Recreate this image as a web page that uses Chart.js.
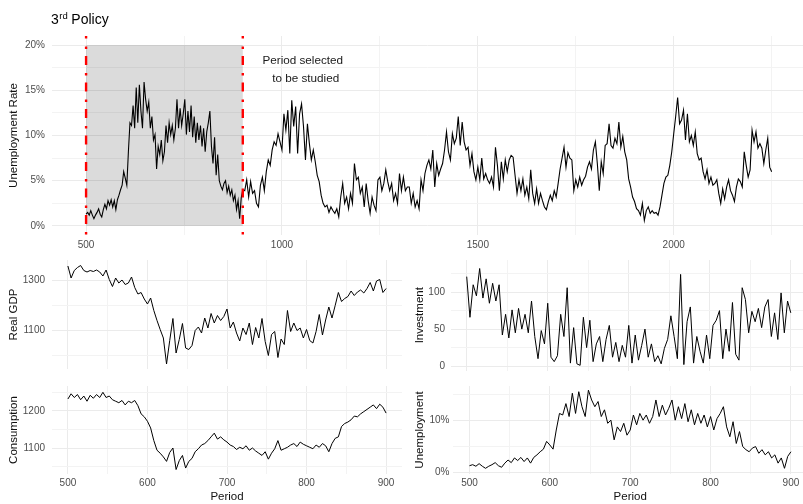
<!DOCTYPE html>
<html>
<head>
<meta charset="utf-8">
<script src="https://cdn.jsdelivr.net/npm/chart.js@4.4.1/dist/chart.umd.min.js"></script>
<style>
  html, body { margin: 0; padding: 0; background: #fff; overflow: hidden; width: 803px; height: 504px; }
  canvas { position: absolute; }
</style>
</head>
<body>
<canvas id="rateChart" width="803" height="252" style="left:0px;top:0px"></canvas>
<canvas id="gdpChart" width="402" height="138" style="left:0px;top:244px"></canvas>
<canvas id="invChart" width="402" height="138" style="left:405px;top:244px"></canvas>
<canvas id="consChart" width="402" height="134" style="left:0px;top:370px"></canvas>
<canvas id="unempChart" width="402" height="134" style="left:405px;top:370px"></canvas>
<script>
// policy window, periods 500..900 sampled every 4 periods
const policyStart = 500, policyStep = 4;
// rest of the run, periods 905..2250 sampled every 5 periods
const laterStart = 905, laterStep = 5;

const studyWindow = [500, 900];
const studyBand = [0, 20];
const noteLines = ['Period selected', 'to be studied'];

// unemployment rate (%) in the policy window
const unempPolicy = [
  1.3, 1.5, 1.2, 1.7, 1.2, 0.8, 1.2, 1.5, 1.9, 1.3,
  1.0, 1.8, 2.4, 1.9, 2.8, 2.3, 2.9, 2.1, 2.8, 1.8,
  2.9, 3.4, 4.0, 4.5, 6.0, 5.3, 4.5, 8.2, 11.4, 11.1,
  13.3, 10.8, 15.3, 11.4, 15.6, 12.7, 10.8, 15.9, 14.0, 12.7,
  13.7, 10.8, 12.1, 9.5, 10.1, 6.3, 8.8, 7.9, 9.5, 7.2,
  8.2, 11.1, 9.2, 11.4, 10.1, 11.1, 9.5, 10.8, 14.0, 10.8,
  13.0, 11.1, 12.4, 14.0, 10.1, 12.7, 10.4, 13.3, 9.8, 12.1,
  9.2, 11.4, 9.5, 11.1, 8.8, 10.8, 8.2, 10.4, 11.4, 12.7,
  8.8, 6.9, 9.8, 5.6, 7.9, 5.0, 4.4, 4.0, 4.7, 5.0,
  3.7, 4.4, 3.4, 4.0, 2.8, 3.4, 1.8, 2.8, 0.8, 3.1,
  4.0
];

// unemployment rate (%) after the policy window
const laterRate = [
  3.9, 5.1, 3.2, 4.9, 3.6, 3.9, 2.5, 2.1, 4.5, 5.4,
  3.9, 6.0, 7.3, 6.7, 8.4, 9.3, 8.9, 10.2, 9.3, 8.4,
  12.4, 10.6, 12.8, 8.0, 13.9, 11.0, 13.2, 8.0, 12.4, 13.5,
  11.0, 7.3, 11.3, 9.1, 7.3, 8.4, 7.1, 5.6, 4.9, 3.4,
  2.5, 2.1, 2.3, 1.5, 2.1, 1.7, 1.4, 1.9, 1.0, 3.2,
  4.7, 2.5, 3.2, 1.9, 3.6, 2.5, 6.9, 5.1, 5.4, 3.6,
  4.3, 2.1, 4.7, 2.8, 1.4, 3.2, 2.3, 1.7, 5.1, 5.4,
  3.9, 4.7, 6.2, 4.9, 3.9, 4.7, 2.8, 3.6, 2.5, 5.8,
  3.9, 5.4, 3.9, 4.3, 4.3, 2.5, 3.6, 2.1, 2.8, 1.9,
  5.1, 3.9, 5.8, 6.7, 7.3, 6.3, 8.4, 4.3, 6.9, 5.6,
  6.3, 6.9, 8.4, 10.4, 8.2, 7.3, 10.2, 9.1, 9.7, 12.1,
  8.9, 11.5, 9.3, 8.4, 8.7, 6.7, 8.0, 6.0, 5.1, 6.5,
  5.1, 7.5, 5.2, 5.8, 5.1, 4.7, 5.4, 4.3, 8.7, 6.7,
  3.9, 7.1, 5.2, 7.3, 6.0, 7.3, 7.8, 7.6, 5.6, 3.6,
  5.1, 3.9, 5.2, 3.4, 4.3, 3.0, 6.2, 3.6, 2.5, 4.1,
  2.5, 3.6, 2.8, 2.1, 1.8, 2.7, 3.4, 2.8, 3.9, 3.2,
  4.7, 6.3, 7.5, 8.7, 6.5, 8.1, 7.5, 7.3, 3.9, 5.1,
  4.3, 5.4, 4.5, 5.1, 5.5, 6.5, 7.1, 6.3, 8.4, 9.3,
  6.9, 3.9, 7.1, 5.8, 8.9, 9.1, 11.3, 8.9, 8.6, 9.7,
  9.1, 11.5, 8.7, 9.9, 8.2, 7.3, 5.2, 4.3, 3.2, 2.7,
  1.9, 1.7, 1.2, 2.5, 0.6, 1.7, 2.1, 1.4, 1.7, 1.4,
  1.5, 1.2, 2.1, 3.4, 4.7, 5.4, 5.6, 6.7, 8.2, 10.2,
  12.1, 14.2, 11.3, 11.7, 12.8, 9.5, 12.4, 9.3, 10.0, 8.9,
  10.4, 8.0, 7.3, 7.5, 6.0, 5.2, 6.2, 4.7, 5.4, 4.5,
  4.7, 5.1, 3.6, 2.5, 4.1, 3.0, 4.3, 5.1, 3.9, 3.4,
  2.7, 4.3, 5.2, 4.9, 4.3, 8.2, 6.7, 5.4, 6.2, 10.6,
  9.3, 10.4, 8.6, 9.1, 8.6, 6.9, 8.4, 9.7, 6.5, 6.0
];

const realGdp = [
  1358, 1310, 1340, 1352, 1360, 1340, 1334, 1340, 1336, 1342,
  1334, 1318, 1342, 1304, 1276, 1310, 1290, 1302, 1284, 1290,
  1314, 1272, 1246, 1252, 1226, 1206, 1230, 1180, 1140, 1104,
  1070, 966, 1060, 1148, 1010, 1064, 1128, 1030, 1024, 1040,
  1100, 1114, 1090, 1150, 1110, 1168, 1130, 1160, 1140, 1156,
  1186, 1110, 1134, 1090, 1058, 1110, 1084, 1130, 1044, 1112,
  1070, 1148, 1056, 1000, 1084, 1096, 992, 1066, 1044, 1180,
  1096, 1130, 1100, 1110, 1070, 1104, 1060, 1050, 1096, 1164,
  1082, 1142, 1194, 1150, 1200, 1252, 1216, 1228, 1236, 1258,
  1240, 1254, 1262, 1250, 1268, 1292, 1258, 1298, 1304, 1252,
  1268
];

const investment = [
  121, 66, 110, 95, 132, 92, 118, 85, 112, 88,
  110, 42, 70, 38, 76, 45, 78, 50, 70, 45,
  88, 40, 10, 48, 30, 85, 12, 6, 14, 70,
  40, 106, 4, 52, 3, 1, 66, 25, 62, 6,
  30, 40, 6, 36, 55, 12, 32, 6, 28, 12,
  55, 4, 42, 8, 28, 50, 12, 30, 6, 14,
  3, 24, 36, 68, 40, 10, 124, 2, 60, 80,
  4, 40, 20, 4, 42, 10, 55, 62, 75, 10,
  50, 20, 86, 16, 8, 106, 90, 45, 74, 60,
  78, 52, 80, 90, 40, 72, 36, 99, 45, 88,
  72
];

const consumption = [
  1232, 1246, 1236, 1244, 1230, 1240, 1226, 1242, 1234, 1244,
  1236, 1250, 1236, 1240, 1230, 1226, 1222, 1228, 1216, 1226,
  1222, 1228, 1214, 1192, 1184, 1172, 1154, 1120, 1094, 1086,
  1076, 1064, 1088, 1100, 1042, 1066, 1080, 1046, 1064, 1072,
  1090, 1098, 1108, 1112, 1120, 1130, 1140, 1124, 1130, 1122,
  1116, 1108, 1104, 1096, 1102, 1098, 1106, 1094, 1100, 1092,
  1086, 1080, 1090, 1070, 1086, 1098, 1120, 1094, 1098, 1102,
  1108, 1112, 1104, 1116, 1110, 1106, 1102, 1098, 1108, 1102,
  1112, 1106, 1090, 1112, 1126, 1130, 1158, 1166, 1170, 1176,
  1186, 1184, 1192, 1198, 1204, 1210, 1216, 1206, 1218, 1210,
  1194
];

// ticks: all gridlines, and the ones that carry a label
const rateXTicks = [500, 750, 1000, 1250, 1500, 1750, 2000, 2250];
const rateXLabels = [500, 1000, 1500, 2000];
const rateYTicks = [0, 2.5, 5, 7.5, 10, 12.5, 15, 17.5, 20];
const rateYLabels = [0, 5, 10, 15, 20];
const panelXTicks = [500, 550, 600, 650, 700, 750, 800, 850, 900];
const panelXLabels = [500, 600, 700, 800, 900];
const gdpYTicks = [1000, 1100, 1200, 1300];
const gdpYLabels = [1100, 1300];
const invYTicks = [0, 25, 50, 75, 100, 125];
const invYLabels = [0, 50, 100];
const consYTicks = [1050, 1100, 1150, 1200, 1250];
const consYLabels = [1100, 1200];
const unempYTicks = [0, 5, 10, 15];
const unempYLabels = [0, 10];

const policyPeriods = unempPolicy.map((_, i) => policyStart + i * policyStep);
const laterPeriods = laterRate.map((_, i) => laterStart + i * laterStep);

function toPoints(xs, ys) {
  return xs.map((x, i) => ({ x: x, y: ys[i] }));
}

Chart.defaults.font.family = '"Liberation Sans", Arial, sans-serif';
Chart.defaults.color = '#4d4d4d';

const FONT = '"Liberation Sans", Arial, sans-serif';

function grid(labelled) {
  return {
    drawTicks: false,
    color: c => labelled.includes(c.tick.value) ? '#ebebeb' : '#f3f3f3',
    lineWidth: 1
  };
}

function panel(id, o) {
  return new Chart(document.getElementById(id), {
    type: 'line',
    data: {
      datasets: [{
        data: o.points,
        borderColor: '#000',
        borderWidth: o.lineWidth || 1,
        pointRadius: 0,
        tension: 0,
        fill: false
      }]
    },
    plugins: o.plugins || [],
    options: {
      responsive: false,
      animation: false,
      events: [],
      layout: { padding: { top: o.top, left: 0, right: 0, bottom: 0 } },
      plugins: { legend: { display: false }, tooltip: { enabled: false } },
      scales: {
        x: {
          type: 'linear',
          min: o.xRange[0],
          max: o.xRange[1],
          afterBuildTicks: s => { s.ticks = o.xTicks.map(v => ({ value: v })); },
          afterFit: s => { s.height = o.xHeight; },
          grid: grid(o.xLabels),
          border: { display: false },
          ticks: {
            display: o.showX,
            autoSkip: false,
            maxRotation: 0,
            padding: o.xPad,
            font: { size: 10 },
            color: '#4d4d4d',
            callback: v => o.xLabels.includes(v) ? String(v) : ''
          },
          title: {
            display: !!o.xTitle,
            text: o.xTitle,
            color: '#111',
            font: { size: 11.5 },
            padding: { top: 0, bottom: 0 }
          }
        },
        y: {
          min: o.yRange[0],
          max: o.yRange[1],
          afterBuildTicks: s => { s.ticks = o.yTicks.map(v => ({ value: v })); },
          afterFit: s => { s.width = o.yWidth; },
          grid: grid(o.yLabels),
          border: { display: false },
          ticks: {
            padding: o.yPad,
            font: { size: 10 },
            color: '#4d4d4d',
            callback: v => o.yLabels.includes(v) ? v + (o.suffix || '') : ''
          },
          title: {
            display: true,
            text: o.yTitle,
            color: '#111',
            font: { size: 11.5 },
            padding: { top: o.titlePad, bottom: 0 }
          }
        }
      }
    }
  });
}

// grey study window, red bounds, note and the page title
const studyMarks = {
  id: 'studyMarks',
  beforeDatasetsDraw(chart) {
    const { ctx, scales: { x, y } } = chart;
    const x0 = x.getPixelForValue(studyWindow[0]);
    const x1 = x.getPixelForValue(studyWindow[1]);
    const yTop = y.getPixelForValue(studyBand[1]);
    const yBot = y.getPixelForValue(studyBand[0]);
    ctx.save();
    ctx.fillStyle = 'rgba(0,0,0,0.14)';
    ctx.fillRect(x0, yTop, x1 - x0, yBot - yTop);
    ctx.restore();
  },
  afterDatasetsDraw(chart) {
    const { ctx, chartArea, scales: { x, y } } = chart;
    ctx.save();
    ctx.strokeStyle = '#ff0000';
    ctx.lineWidth = 2.4;
    ctx.setLineDash([9, 7, 2.5, 8]);
    ctx.lineDashOffset = 15.5;
    studyWindow.forEach(p => {
      const px = x.getPixelForValue(p);
      ctx.beginPath();
      ctx.moveTo(px, chartArea.bottom);
      ctx.lineTo(px, chartArea.top);
      ctx.stroke();
    });
    ctx.setLineDash([]);
    ctx.fillStyle = '#1a1a1a';
    ctx.font = '11.7px ' + FONT;
    ctx.textAlign = 'center';
    ctx.textBaseline = 'alphabetic';
    const tx = x.getPixelForValue(1053);
    const ty = y.getPixelForValue(17.85);
    ctx.fillText(noteLines[0], tx, ty);
    ctx.fillText(noteLines[1], tx + 3, ty + 17.2);
    ctx.restore();
  },
  afterDraw(chart) {
    const ctx = chart.ctx;
    ctx.save();
    ctx.fillStyle = '#000';
    ctx.textAlign = 'left';
    ctx.textBaseline = 'alphabetic';
    ctx.font = '14px ' + FONT;
    ctx.fillText('3', 51, 24);
    const w3 = ctx.measureText('3').width;
    ctx.font = '9.5px ' + FONT;
    ctx.fillText('rd', 51 + w3 + 0.5, 18.5);
    const wrd = ctx.measureText('rd ').width;
    ctx.font = '14px ' + FONT;
    ctx.fillText('Policy', 51 + w3 + 0.5 + wrd + 1, 24);
    ctx.restore();
  }
};

panel('rateChart', {
  points: toPoints(policyPeriods.concat(laterPeriods), unempPolicy.concat(laterRate)),
  plugins: [studyMarks], lineWidth: 1.1,
  top: 36, xHeight: 17, yWidth: 52, xPad: 4, yPad: 7, titlePad: 7,
  xRange: [413, 2330], yRange: [-1, 21],
  xTicks: rateXTicks, xLabels: rateXLabels, showX: true,
  yTicks: rateYTicks, yLabels: rateYLabels, suffix: '%',
  yTitle: 'Unemployment Rate'
});

panel('gdpChart', {
  points: toPoints(policyPeriods, realGdp),
  top: 16, xHeight: 10, yWidth: 52, xPad: 3, yPad: 7, titlePad: 7,
  xRange: [480, 920], yRange: [946, 1382],
  xTicks: panelXTicks, xLabels: panelXLabels, showX: false,
  yTicks: gdpYTicks, yLabels: gdpYLabels,
  yTitle: 'Real GDP'
});

panel('invChart', {
  points: toPoints(policyPeriods, investment),
  top: 16, xHeight: 10, yWidth: 45.5, xPad: 3, yPad: 5.5, titlePad: 7.5,
  xRange: [480, 920], yRange: [-6, 143.5],
  xTicks: panelXTicks, xLabels: panelXLabels, showX: false,
  yTicks: invYTicks, yLabels: invYLabels,
  yTitle: 'Investment'
});

panel('consChart', {
  points: toPoints(policyPeriods, consumption),
  top: 16, xHeight: 30, yWidth: 52, xPad: 3, yPad: 7, titlePad: 7,
  xRange: [480, 920], yRange: [1030, 1267],
  xTicks: panelXTicks, xLabels: panelXLabels, showX: true,
  yTicks: consYTicks, yLabels: consYLabels,
  yTitle: 'Consumption', xTitle: 'Period'
});

panel('unempChart', {
  points: toPoints(policyPeriods, unempPolicy),
  top: 16, xHeight: 30, yWidth: 48.4, xPad: 3, yPad: 4, titlePad: 7.5,
  xRange: [480, 920], yRange: [-0.3, 16.7],
  xTicks: panelXTicks, xLabels: panelXLabels, showX: true,
  yTicks: unempYTicks, yLabels: unempYLabels, suffix: '%',
  yTitle: 'Unemployment', xTitle: 'Period'
});
</script>
</body>
</html>
